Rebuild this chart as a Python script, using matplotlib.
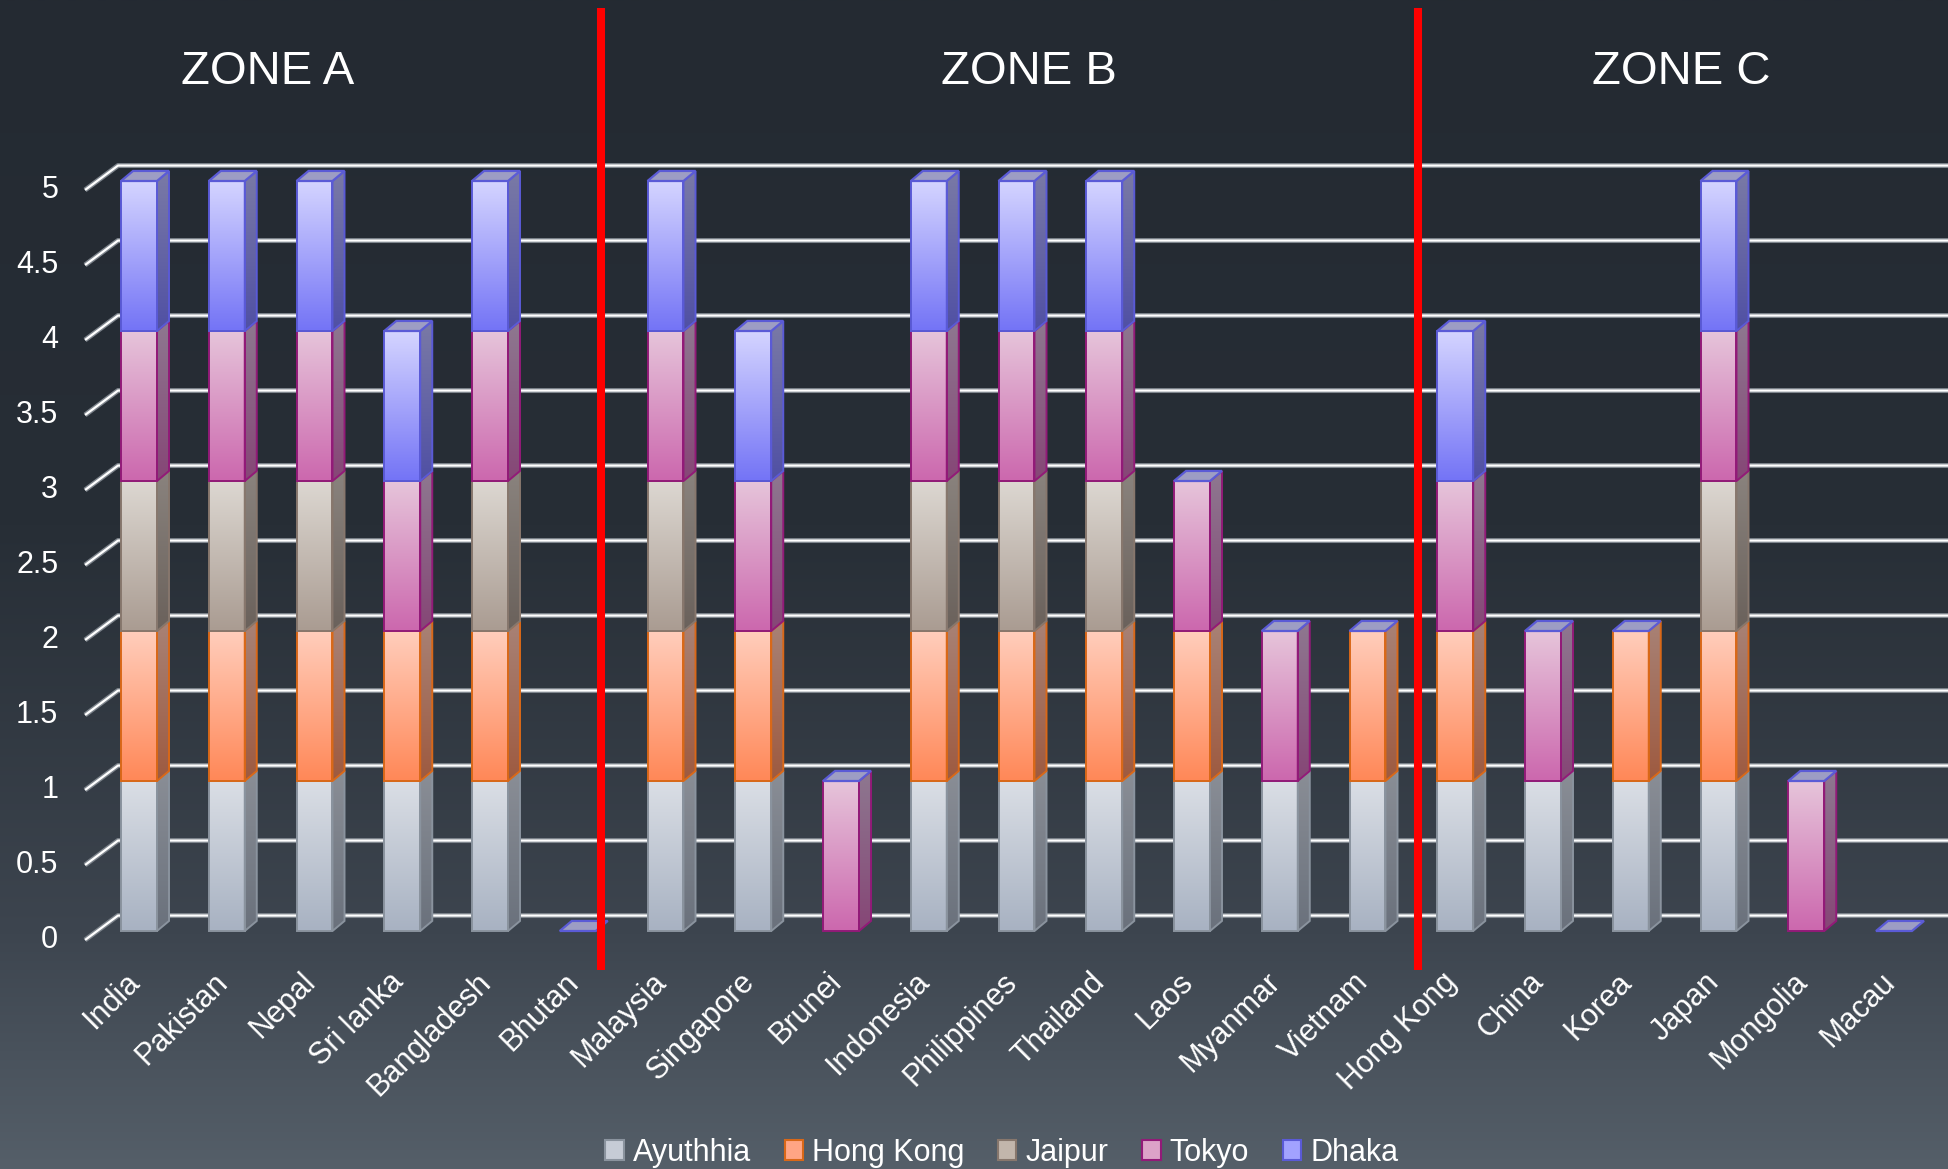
import numpy as np
import matplotlib
matplotlib.use("Agg")
import matplotlib.pyplot as plt
from matplotlib.patches import Polygon, Patch
from matplotlib.colors import to_rgb
import matplotlib.patheffects as pe

plt.rcParams['font.family'] = ['Liberation Sans', 'DejaVu Sans']

# ---------------- data ----------------
categories = ["India", "Pakistan", "Nepal", "Sri lanka", "Bangladesh", "Bhutan",
              "Malaysia", "Singapore", "Brunei", "Indonesia", "Philippines", "Thailand",
              "Laos", "Myanmar", "Vietnam", "Hong Kong", "China", "Korea", "Japan",
              "Mongolia", "Macau"]
series_names = ["Ayuthhia", "Hong Kong", "Jaipur", "Tokyo", "Dhaka"]
ayuthhia  = [1, 1, 1, 1, 1, 0, 1, 1, 0, 1, 1, 1, 1, 1, 1, 1, 1, 1, 1, 0, 0]
hong_kong = [1, 1, 1, 1, 1, 0, 1, 1, 0, 1, 1, 1, 1, 0, 1, 1, 0, 1, 1, 0, 0]
jaipur    = [1, 1, 1, 0, 1, 0, 1, 0, 0, 1, 1, 1, 0, 0, 0, 0, 0, 0, 1, 0, 0]
tokyo     = [1, 1, 1, 1, 1, 0, 1, 1, 1, 1, 1, 1, 1, 1, 0, 1, 1, 0, 1, 1, 0]
dhaka     = [1, 1, 1, 1, 1, 0, 1, 1, 0, 1, 1, 1, 0, 0, 0, 1, 0, 0, 1, 0, 0]
series_values = [ayuthhia, hong_kong, jaipur, tokyo, dhaka]
y_ticks = [0, 0.5, 1, 1.5, 2, 2.5, 3, 3.5, 4, 4.5, 5]
y_tick_labels = ["0", "0.5", "1", "1.5", "2", "2.5", "3", "3.5", "4", "4.5", "5"]
zone_titles = ["ZONE A", "ZONE B", "ZONE C"]
zone_title_x = [1.47, 10.14, 17.58]
zone_dividers = [5.27, 14.58]

# ---------------- styles ----------------
front_top = ["#dadee5", "#ffcdbb", "#dcd7d1", "#e6c4da", "#d4d4ff"]
front_bot = ["#a8b2c2", "#ff8858", "#aa9c92", "#cc68ae", "#7474f6"]
side_top  = ["#8a8e96", "#a88276", "#8a837e", "#8e7890", "#7a7aa6"]
side_bot  = ["#6a717c", "#9e5a40", "#6a615b", "#864676", "#5050a4"]
edge_cols = ["#8a939e", "#d96818", "#87776d", "#921a78", "#5a5ad6"]
legend_face = ["#c6ccd6", "#ffa584", "#c2b6ac", "#dca2c8", "#a2a2ff"]
cap_face = "#9d9dc4"
cap_edge = "#5b5bd6"

BAR_HALF = 0.205
BAR_DX, BAR_DY = 0.137, 0.067
WALL_FRONT = (-0.615, -0.06)
WALL_BACK = (-0.239, 0.103)

W, H = 1949, 1169
fig = plt.figure(figsize=(W / 100, H / 100), dpi=100)

# background gradient
bg = fig.add_axes([0, 0, 1, 1], zorder=-10)
stops = [(0.0, "#242a32"), (0.45, "#272e36"), (0.8, "#3d454f"), (1.0, "#555f69")]
yy = np.linspace(0, 1, 400)
cols = np.array([to_rgb(c) for _, c in stops])
pos = np.array([p for p, _ in stops])
grad = np.stack([np.interp(yy, pos, cols[:, k]) for k in range(3)], axis=-1)[:, None, :]
bg.imshow(grad, aspect='auto', extent=[0, 1, 0, 1], origin='upper', interpolation='bilinear')
bg.set_axis_off()

ax = fig.add_axes([0, 0, 1, 1])
ax.set_facecolor('none')
ax.set_axis_off()

xmin = -139 / 87.75
xmax = xmin + W / 87.75
ymin = -238 / 150
ymax = ymin + H / 150


def grad_poly(verts, c_top, c_bot, edge, z, lw=1.4):
    xs = [v[0] for v in verts]
    ys = [v[1] for v in verts]
    t = np.linspace(0, 1, 64)
    a = np.array(to_rgb(c_top))
    b = np.array(to_rgb(c_bot))
    arr = (a[None, :] * (1 - t[:, None]) + b[None, :] * t[:, None])[:, None, :]
    im = ax.imshow(arr, extent=[min(xs), max(xs), min(ys), max(ys)], origin='upper',
                   aspect='auto', interpolation='bilinear', zorder=z)
    poly = Polygon(verts, closed=True, facecolor='none', edgecolor=edge, lw=lw,
                   zorder=z + 0.05, joinstyle='miter')
    ax.add_patch(poly)
    im.set_clip_path(poly)


# gridlines (wall)
grid_fx = [pe.Stroke(linewidth=3.6, foreground="#7d848c"), pe.Normal()]
for v in y_ticks:
    ax.plot([WALL_FRONT[0], WALL_BACK[0], xmax + 1],
            [v + WALL_FRONT[1], v + WALL_BACK[1], v + WALL_BACK[1]],
            color="white", lw=1.6, zorder=1, solid_capstyle='butt', path_effects=grid_fx)
for v, lab in zip(y_ticks, y_tick_labels):
    ax.text(-0.92, v + WALL_FRONT[1], lab, ha='right', va='center', color='white',
            fontsize=22)

# bars
for i, cat in enumerate(categories):
    base = 0.0
    z = 5
    for s in range(len(series_names)):
        v = series_values[s][i]
        if v <= 0:
            continue
        xl, xr = i - BAR_HALF, i + BAR_HALF
        y0, y1 = base, base + v
        grad_poly([(xl, y0), (xr, y0), (xr, y1), (xl, y1)], front_top[s], front_bot[s],
                  edge_cols[s], z)
        grad_poly([(xr, y0), (xr + BAR_DX, y0 + BAR_DY), (xr + BAR_DX, y1 + BAR_DY), (xr, y1)],
                  side_top[s], side_bot[s], edge_cols[s], z)
        base = y1
        z += 0.2
    xl, xr = i - BAR_HALF, i + BAR_HALF
    cap = Polygon([(xl, base), (xr, base), (xr + BAR_DX, base + BAR_DY), (xl + BAR_DX, base + BAR_DY)],
                  closed=True, facecolor=cap_face, edgecolor=cap_edge, lw=1.6, zorder=z + 0.5)
    ax.add_patch(cap)
    ax.text(i - 0.04, -0.31, cat, rotation=45, rotation_mode='anchor', ha='right',
            va='center', color='white', fontsize=22)

# zone dividers and titles
for xd in zone_dividers:
    ax.axvline(xd, ymin=(H - 970) / H, ymax=(H - 8) / H, color='#ff0000', lw=5.8, zorder=20,
               solid_capstyle='butt')
for xt, tt in zip(zone_title_x, zone_titles):
    ax.text(xt, 0.938, tt, transform=ax.get_xaxis_transform(), ha='center', va='center',
            color='white', fontsize=34)

ax.set_xlim(xmin, xmax)
ax.set_ylim(ymin, ymax)

handles = [Patch(facecolor=legend_face[s], edgecolor=edge_cols[s], lw=1.5, label=series_names[s])
           for s in range(len(series_names))]
leg = fig.legend(handles=handles, loc='center', bbox_to_anchor=(0.514, 0.014), ncol=5,
                 frameon=False, fontsize=22, handlelength=0.6, handleheight=0.6,
                 handletextpad=0.3, columnspacing=1.1, labelcolor='white')

fig.savefig("out.png", dpi=100)
